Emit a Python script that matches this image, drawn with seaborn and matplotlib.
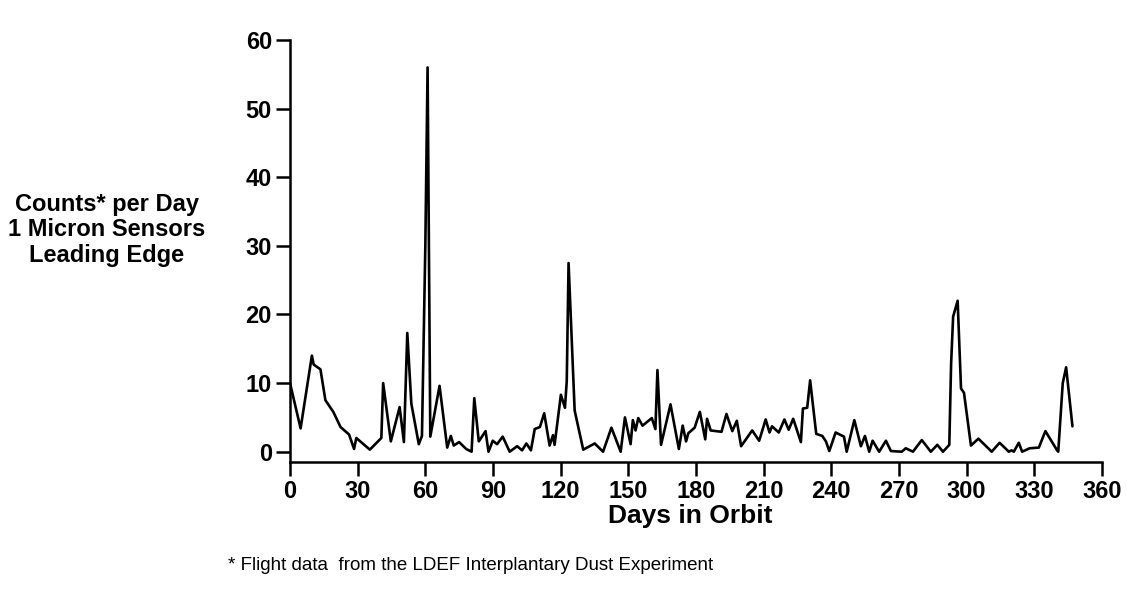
import pandas as pd
import matplotlib
matplotlib.use('Agg')
import matplotlib.pyplot as plt
import seaborn as sns

# days in orbit and counts per day
days = [0, 4.7, 9.7, 10.5, 13.5, 15.7, 19.2, 22.4, 26.2, 28.4, 29.4, 35.4,
        40.5, 41.3, 44.7, 48.6, 50.5, 52.0, 53.8, 57.1, 58.5, 60.0, 61.0,
        62.2, 66.3, 69.7, 71.3, 72.6, 75.0, 78.1, 80.5, 81.7, 83.7, 86.7,
        88.0, 89.9, 91.8, 94.3, 97.4, 100.7, 102.9, 104.8, 106.8, 108.5,
        110.8, 112.7, 115.1, 116.6, 117.3, 120.1, 121.9, 122.7, 123.5, 126.2,
        130.0, 135.1, 138.8, 142.5, 146.6, 148.5, 151.0, 152.0, 153.2, 154.4,
        156.3, 160.4, 162.0, 162.9, 164.5, 168.7, 172.4, 174.1, 175.6, 176.6,
        179.4, 181.7, 184.1, 184.9, 186.5, 191.3, 193.5, 196.1, 198.1, 200.0,
        204.9, 208.0, 210.9, 212.6, 213.7, 216.7, 219.2, 221.1, 223.1, 226.5,
        227.4, 229.3, 230.6, 233.3, 236.0, 237.6, 239.1, 241.9, 245.6, 246.8,
        250.2, 253.1, 254.9, 256.8, 258.3, 261.2, 264.2, 266.4, 271.2, 273.0,
        276.2, 280.1, 284.1, 287.0, 289.5, 292.3, 293.1, 294.0, 296.0, 297.5,
        298.8, 301.9, 305.2, 311.1, 314.6, 318.7, 319.9, 320.9, 323.1, 324.6,
        327.9, 332.0, 334.9, 340.1, 340.6, 342.6, 344.1, 346.9]
counts = [10.0, 3.4, 14.0, 12.7, 12.0, 7.5, 5.8, 3.6, 2.5, 0.4, 2.0, 0.3,
          2.0, 10.0, 1.5, 6.5, 1.4, 17.3, 7.0, 1.1, 2.3, 30.0, 56.0,
          2.2, 9.6, 0.6, 2.3, 0.9, 1.4, 0.4, 0.0, 7.8, 1.5, 3.0,
          0.0, 1.6, 1.1, 2.2, 0.0, 0.8, 0.2, 1.2, 0.2, 3.3,
          3.6, 5.6, 0.9, 2.4, 1.0, 8.3, 6.4, 10.3, 27.5, 6.0,
          0.3, 1.2, 0.0, 3.5, 0.0, 5.0, 1.1, 4.6, 3.1, 4.9,
          3.8, 4.9, 3.3, 11.9, 1.0, 6.9, 0.4, 3.8, 1.5, 2.7,
          3.5, 5.8, 1.8, 4.8, 3.1, 2.9, 5.5, 3.0, 4.5, 0.8,
          3.1, 1.6, 4.7, 2.8, 3.7, 2.8, 4.7, 3.2, 4.8, 1.4,
          6.3, 6.4, 10.4, 2.6, 2.3, 1.5, 0.1, 2.8, 2.2, 0.0,
          4.6, 0.8, 2.3, 0.0, 1.6, 0.0, 1.6, 0.1, 0.0, 0.5,
          0.0, 1.7, 0.0, 1.0, 0.0, 1.0, 12.8, 19.7, 22.0, 9.2,
          8.6, 0.9, 1.9, 0.0, 1.3, 0.0, 0.2, 0.0, 1.3, 0.0,
          0.5, 0.6, 3.0, 0.2, 0.0, 10.0, 12.3, 3.7]

x_ticks = list(range(0, 361, 30))
y_ticks = list(range(0, 61, 10))

df = pd.DataFrame({'day': days, 'counts': counts})

sns.set_style("ticks")
plt.rcParams['font.family'] = ['Liberation Sans', 'DejaVu Sans']
plt.rcParams['text.color'] = 'black'

W, H = 1127, 601
fig = plt.figure(figsize=(W / 100, H / 100), dpi=100)
ax = fig.add_axes([290 / W, 1 - 462 / H, 812 / W, 422 / H])

sns.lineplot(data=df, x='day', y='counts', color='black', linewidth=1.9,
             estimator=None, sort=False, ax=ax)

ax.set_xlim(0, 360)
ax.set_ylim(-1.5, 60)
ax.set_xticks(x_ticks)
ax.set_yticks(y_ticks)
ax.set(xlabel='', ylabel='')
ax.tick_params(length=10, width=1.8, labelsize=17, pad=3, colors='black')
for lab in ax.get_xticklabels() + ax.get_yticklabels():
    lab.set_fontweight('bold')
sns.despine(ax=ax)
for sp in ['left', 'bottom']:
    ax.spines[sp].set_linewidth(1.8)
    ax.spines[sp].set_color('black')

fig.text(107 / W, 1 - 230 / H, "Counts* per Day\n1 Micron Sensors\nLeading Edge",
         ha='center', va='center', fontsize=17, fontweight='bold', linespacing=1.15)
fig.text(690 / W, 1 - 516 / H, "Days in Orbit", ha='center', va='center',
         fontsize=19, fontweight='bold')
fig.text(228 / W, 1 - 566 / H, "* Flight data  from the LDEF Interplantary Dust Experiment",
         ha='left', va='center', fontsize=13.5)

fig.savefig("out.png", dpi=100, facecolor='white')
